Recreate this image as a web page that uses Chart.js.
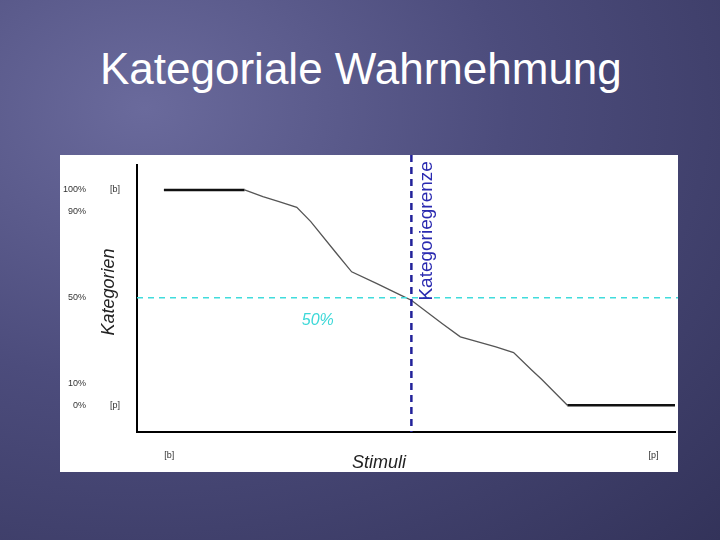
<!DOCTYPE html>
<html><head><meta charset="utf-8">
<script src="https://cdn.jsdelivr.net/npm/chart.js@4/dist/chart.umd.min.js"></script>
<style>
html,body{margin:0;width:720px;height:540px;overflow:hidden;}
body{background:radial-gradient(ellipse at 20% 20%,#6a6a9c 0%,#4c4c7c 45%,#33335a 100%);font-family:"Liberation Sans",Arial,sans-serif;}
#title{position:absolute;left:100px;top:44px;color:#fff;font-size:44px;}
#panel{position:absolute;left:60px;top:155px;width:618px;height:317px;background:#fff;}
</style></head><body>
<div id="title">Kategoriale Wahrnehmung</div>
<div id="panel"><canvas id="c" width="618" height="317"></canvas></div>
<script>
const stimulusX=[5.0,20.0,23.4,26.4,29.7,32.3,37.1,39.9,44.5,49.0,51.0,56.7,60.1,63.4,66.7,70.0,73.4,75.2,80.0,100];
const kategorieY=[100,100,96.9,94.6,91.9,85.3,70.5,62.0,56.6,51.2,48.8,38.0,31.8,29.5,27.1,24.5,16.3,12.1,0,0];
const yTickValues=[100,90,50,10,0];
const yTickLabels=["100%","90%","50%","10%","0%"];
const yEndLabels=[{v:100,t:"[b]"},{v:0,t:"[p]"}];
const xEndLabels=[{v:6,t:"[b]"},{v:96,t:"[p]"}];
const grenzeX=51, halfY=50;

const deco={id:'deco',afterDatasetsDraw(ch){
 const c=ch.ctx,x=ch.scales.x,y=ch.scales.y,a=ch.chartArea;
 c.save();
 c.setLineDash([6,5]);c.lineWidth=1.5;c.strokeStyle='#40dcdc';
 c.beginPath();c.moveTo(a.left,y.getPixelForValue(halfY));c.lineTo(ch.width,y.getPixelForValue(halfY));c.stroke();
 c.setLineDash([7,5]);c.lineWidth=2.5;c.strokeStyle='#22229a';
 c.beginPath();c.moveTo(x.getPixelForValue(grenzeX),0);c.lineTo(x.getPixelForValue(grenzeX),a.bottom);c.stroke();
 c.setLineDash([]);
 c.fillStyle='#333';c.font='9px "Liberation Sans",Arial';c.textAlign='right';c.textBaseline='middle';
 yTickValues.forEach((v,i)=>c.fillText(yTickLabels[i],26,y.getPixelForValue(v)));
 c.textAlign='left';
 yEndLabels.forEach(o=>c.fillText(o.t,50,y.getPixelForValue(o.v)));
 c.textAlign='center';
 xEndLabels.forEach(o=>c.fillText(o.t,x.getPixelForValue(o.v),301));
 c.font='italic 18px "Liberation Sans",Arial';c.fillStyle='#222';
 c.fillText('Stimuli',x.getPixelForValue(45),308);
 c.save();c.translate(49,137);c.rotate(-Math.PI/2);c.fillText('Kategorien',0,0);c.restore();
 c.fillStyle='#3cd8d8';c.font='italic 16px "Liberation Sans",Arial';
 c.fillText('50%',x.getPixelForValue(33.6),y.getPixelForValue(39.5));
 c.fillStyle='#2a2ab0';c.font='19px "Liberation Sans",Arial';
 c.save();c.translate(x.getPixelForValue(grenzeX)+15,y.getPixelForValue(81));c.rotate(-Math.PI/2);c.fillText('Kategoriegrenze',0,0);c.restore();
 c.restore();
}};

new Chart(document.getElementById('c'),{
 type:'line',
 data:{datasets:[{data:stimulusX.map((v,i)=>({x:v,y:kategorieY[i]})),
  borderColor:'#555',borderWidth:1.3,pointRadius:0,tension:0,
  segment:{borderWidth:s=>(s.p0.parsed.y===s.p1.parsed.y?2.5:1.3),borderColor:s=>(s.p0.parsed.y===s.p1.parsed.y?'#111':'#555')}}]},
 options:{responsive:false,animation:false,
  layout:{padding:{left:69,right:3,top:10,bottom:32}},
  plugins:{legend:{display:false},tooltip:{enabled:false}},
  scales:{
   x:{type:'linear',min:0,max:100,ticks:{display:false},grid:{display:false},border:{color:'#000',width:2}},
   y:{min:-12.4,max:111.6,ticks:{display:false},grid:{display:false},border:{color:'#000',width:2}}
  }},
 plugins:[deco]
});
</script></body></html>
